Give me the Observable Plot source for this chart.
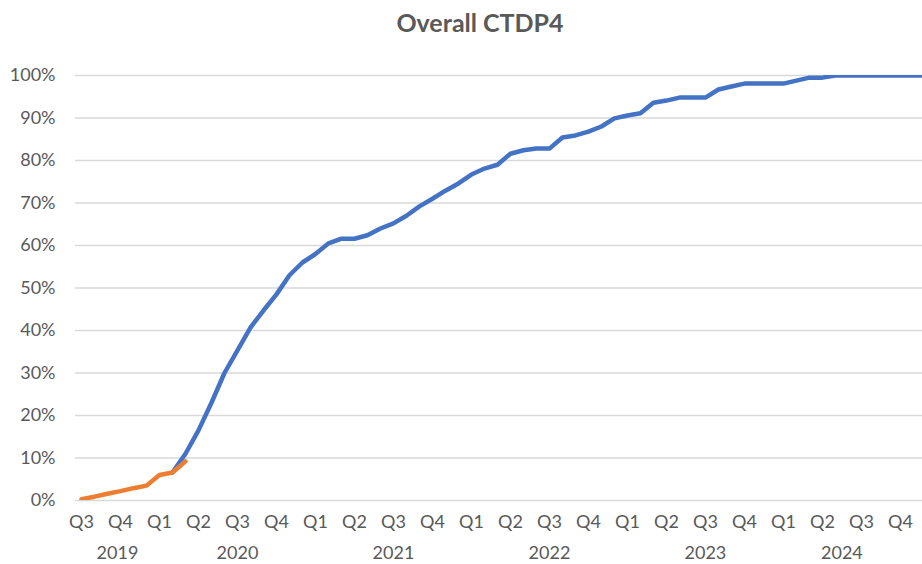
<!DOCTYPE html>
<html>
<head>
<meta charset="utf-8">
<script src="https://cdn.jsdelivr.net/npm/d3@7"></script>
<script src="https://cdn.jsdelivr.net/npm/@observablehq/plot@0.6"></script>
<style>
  html, body { margin: 0; padding: 0; background: #fff; }
  #title { width: 922px; height: 44px; line-height: 44px; text-align: center; padding-left: 38px; box-sizing: border-box;
           font-family: Lato, "Open Sans", sans-serif; font-weight: bold; font-size: 25px; color: #595959; }
  svg { display: block; }
</style>
</head>
<body>
<div id="title">Overall CTDP4</div>
<div id="chart"></div>
<script>
// Monthly series starting July 2019 (index 0 = Jul 2019)
const startYear = 2019, startMonth = 7;
const blueValues = [null, null, null, null, null, null, null, 6.6, 11, 16.5, 23, 30, 35.3, 40.7, 44.7, 48.5, 53, 56, 58, 60.5,
  61.6, 61.6, 62.4, 64, 65.2, 67, 69.2, 71, 72.9, 74.6, 76.7, 78.1, 79, 81.6, 82.4, 82.8, 82.8, 85.4, 85.9, 86.8,
  88, 89.9, 90.6, 91.1, 93.6, 94.1, 94.8, 94.8, 94.8, 96.7, 97.4, 98.1, 98.1, 98.1, 98.1, 98.8, 99.5, 99.5, 100, 100,
  100, 100, 100, 100, 100, 100];
const orangeValues = [0.3, 0.9, 1.6, 2.2, 2.9, 3.5, 6.0, 6.6, 9.2];
const quarterLabels = ["Q3","Q4","Q1","Q2","Q3","Q4","Q1","Q2","Q3","Q4","Q1","Q2","Q3","Q4","Q1","Q2","Q3","Q4","Q1","Q2","Q3","Q4"];
const yearLabels = ["2019","2020","2021","2022","2023","2024"];
const yTicks = [0, 0.1, 0.2, 0.3, 0.4, 0.5, 0.6, 0.7, 0.8, 0.9, 1.0];

const blue = blueValues.map((v, i) => ({m: i, v: v == null ? null : v / 100}));
const orange = orangeValues.map((v, i) => ({m: i, v: v / 100}));
const quarters = quarterLabels.map((q, i) => ({m: i * 3, label: q}));
const xMin = -0.46, xMax = 64.7;
const labelEnd = 63; // year labels are centred over the labelled span
const years = yearLabels.map(y => {
  const s = (+y - startYear) * 12 - (startMonth - 1);
  const a = Math.max(s, xMin), b = Math.min(s + 12, labelEnd);
  return {m: (a + b) / 2, label: y};
});

const font = "Lato, 'Open Sans', sans-serif";
const textColor = "#595959";

const chart = Plot.plot({
  width: 922,
  height: 520,
  marginLeft: 75,
  marginRight: 0,
  marginTop: 31,
  marginBottom: 64,
  style: {fontFamily: font, fontSize: "18px", color: textColor, background: "#fff", overflow: "visible"},
  x: {domain: [xMin, xMax], axis: null},
  y: {domain: [0, 1], axis: null},
  marks: [
    Plot.ruleY(yTicks, {stroke: "#d9d9d9", strokeWidth: 1.4}),
    Plot.text(yTicks, {y: d => d, text: d => d3.format(".0%")(d), frameAnchor: "left", textAnchor: "end", dx: -20,
      fill: textColor, fontSize: 18}),
    Plot.line(blue, {x: "m", y: "v", stroke: "#4472C4", strokeWidth: 4.5, clip: true, strokeLinejoin: "round"}),
    Plot.line(orange, {x: "m", y: "v", stroke: "#ED7D31", strokeWidth: 4.5, clip: true, strokeLinecap: "round", strokeLinejoin: "round"}),
    Plot.text(quarters, {x: "m", text: "label", frameAnchor: "bottom", dy: 22, lineAnchor: "middle", fill: textColor, fontSize: 18}),
    Plot.text(years, {x: "m", text: "label", frameAnchor: "bottom", dy: 53, lineAnchor: "middle", fill: textColor, fontSize: 18})
  ]
});
document.getElementById("chart").appendChild(chart);
</script>
</body>
</html>
